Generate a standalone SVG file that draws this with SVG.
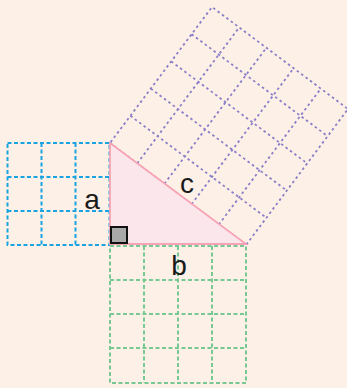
<svg xmlns="http://www.w3.org/2000/svg" width="347" height="388" viewBox="0 0 347 388">
<style>
.bg{fill:#fdf0e6}
.grid{fill:none;stroke-width:2}
.blue{stroke:#1aa3e0;stroke-dasharray:4 2.5}
.green{stroke:#77c893;stroke-dasharray:4 2.5}
.purple{stroke:#8a7ec8;stroke-width:1.8;stroke-dasharray:2.5 3}
.tri{fill:#fbe6ec;stroke:#f7a3b5;stroke-width:1.8}
.lbl{font-family:"Liberation Sans",Arial,sans-serif;font-size:28px;fill:#1a1a1a;text-anchor:middle}
</style>
<rect class="bg" x="0" y="0" width="347" height="388"/>
<g id="square-c" transform="translate(110,143) rotate(36.87)">
<path class="grid purple" d="M0,0H170V-170H0Z M34,0V-170 M68,0V-170 M102,0V-170 M136,0V-170 M0,-34H170 M0,-68H170 M0,-102H170 M0,-136H170"/>
</g>
<g id="square-a">
<path class="grid blue" d="M7.5,143H109.5V245H7.5Z M41.5,143V245 M75.5,143V245 M7.5,177H109.5 M7.5,211H109.5"/>
</g>
<g id="square-b">
<path class="grid green" d="M110,246H246V383H110Z M144,246V383 M178,246V383 M212,246V383 M110,280H246 M110,314H246 M110,348H246"/>
</g>
<g id="triangle">
<polygon class="tri" points="110,143 110,244 246,244"/>
<rect x="111" y="227" width="16" height="16" fill="#a9a9a9" stroke="#111" stroke-width="2"/>
</g>
<g id="labels">
<text class="lbl" x="92" y="209">a</text>
<text class="lbl" x="179" y="275">b</text>
<text class="lbl" x="187" y="193">c</text>
</g>
</svg>
